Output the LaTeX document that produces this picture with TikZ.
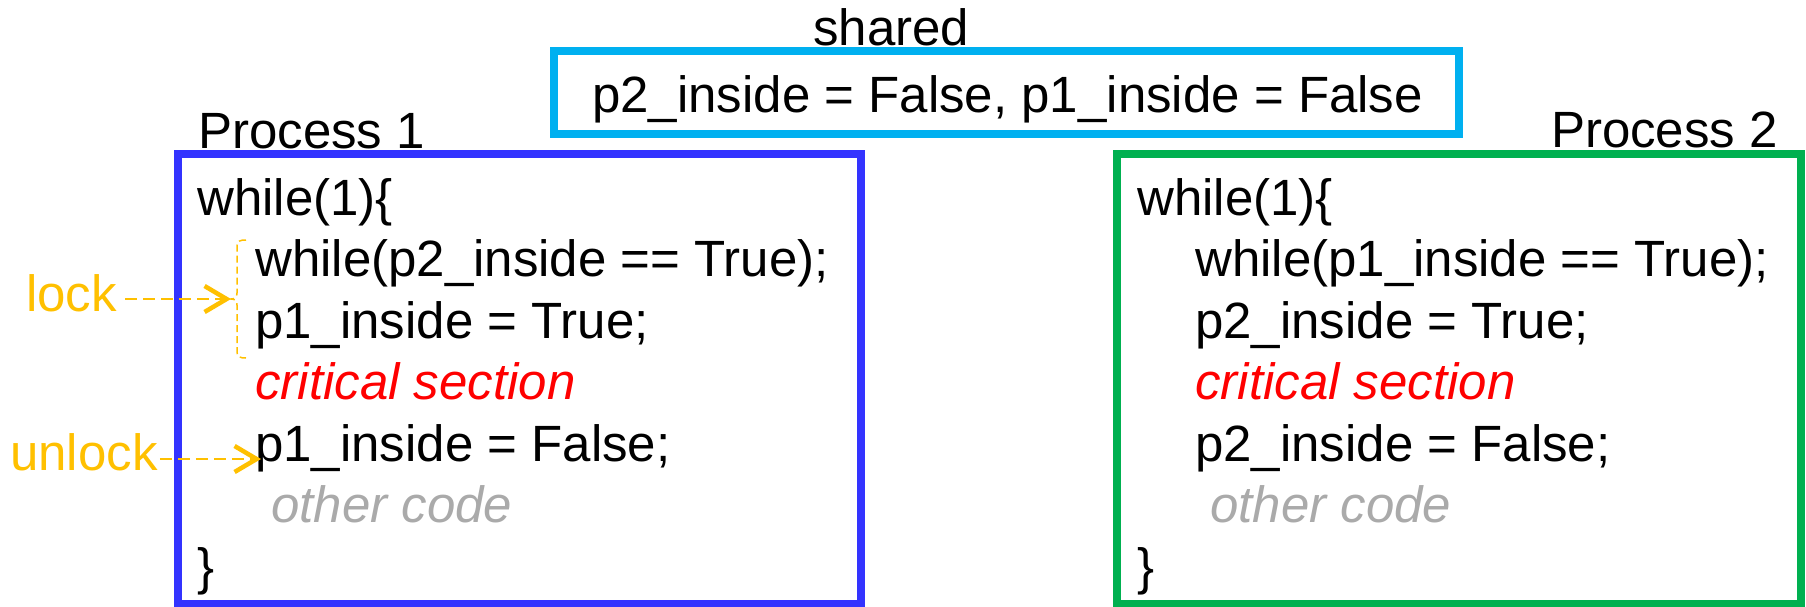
\documentclass[tikz,border=0pt]{standalone}
\usepackage{fontspec}
\setmainfont{Liberation Sans}
\usetikzlibrary{arrows.meta}
\definecolor{procblue}{RGB}{51,51,255}
\definecolor{procgreen}{RGB}{0,176,80}
\definecolor{sharedcyan}{RGB}{0,176,240}
\definecolor{lockorange}{RGB}{255,192,0}
\definecolor{othergray}{RGB}{170,170,170}
\begin{document}
\begin{tikzpicture}[x=1pt,y=-1pt,
  txt/.style={inner sep=0pt, anchor=base west, font=\fontsize{51}{61}\selectfont},
  crit/.style={txt, text=red, font=\fontsize{51}{61}\selectfont\itshape},
  other/.style={txt, text=othergray, font=\fontsize{51}{61}\selectfont\itshape},
  note/.style={txt, text=lockorange},
  frame/.style={draw, line width=8pt, inner sep=0pt, outer sep=0pt},
  lockarrow/.style={lockorange, line width=2.8pt, dash pattern=on 12pt off 6pt,
    -{Straight Barb[length=22pt,width=26pt,line width=4.5pt]}},
  lockbrace/.style={lockorange, line width=1.5pt, dash pattern=on 7pt off 4pt}
]
\useasboundingbox (0,0) rectangle (1806,606);

% shared variables
\node[frame, draw=sharedcyan, minimum width=905pt, minimum height=83pt] (sharedbox) at (1006.5,92.5) {};
\node[txt] (sharedlbl) at (813,45) {shared};
\node[txt] (sharedvars) at (592,112) {p2\_inside = False, p1\_inside = False};

% process 1
\node[frame, draw=procblue, minimum width=683.5pt, minimum height=450pt] (p1box) at (519.25,379) {};
\node[txt] (p1lbl) at (198,148) {Process 1};
\node[txt] (a1) at (197,215) {while(1)\{};
\node[txt] (a2) at (255,276) {while(p2\_inside == True);};
\node[txt] (a3) at (255,338) {p1\_inside = True;};
\node[crit] (a4) at (255,399) {critical section};
\node[txt] (a5) at (255,461) {p1\_inside = False;};
\node[other] (a6) at (271,522) {other code};
\node[txt] (a7) at (197,584) {\}};

% process 2
\node[frame, draw=procgreen, minimum width=684pt, minimum height=450pt] (p2box) at (1459,379) {};
\node[txt, anchor=base east] (p2lbl) at (1778,147) {Process 2};
\node[txt] (b1) at (1137,215) {while(1)\{};
\node[txt] (b2) at (1195,276) {while(p1\_inside == True);};
\node[txt] (b3) at (1195,338) {p2\_inside = True;};
\node[crit] (b4) at (1195,399) {critical section};
\node[txt] (b5) at (1195,461) {p2\_inside = False;};
\node[other] (b6) at (1210,522) {other code};
\node[txt] (b7) at (1137,584) {\}};

% lock / unlock annotations
\node[note] (lock) at (26,311) {lock};
\node[note] (unlock) at (10,470) {unlock};
\coordinate (locktip) at (231,299);
\coordinate (unlocktip) at (261,459);
\draw[lockbrace] (246,240) .. controls (240,240) and (237,241) .. (237,246) -- (237,293)
  .. controls (237,297) and (235,299) .. (locktip)
  .. controls (235,299) and (237,301) .. (237,305) -- (237,352)
  .. controls (237,357) and (240,358) .. (246,358);
\draw[lockarrow] ([xshift=8pt]lock.east |- locktip) -- (locktip);
\draw[lockarrow] ([xshift=2pt]unlock.east |- unlocktip) -- (unlocktip);
\end{tikzpicture}
\end{document}
